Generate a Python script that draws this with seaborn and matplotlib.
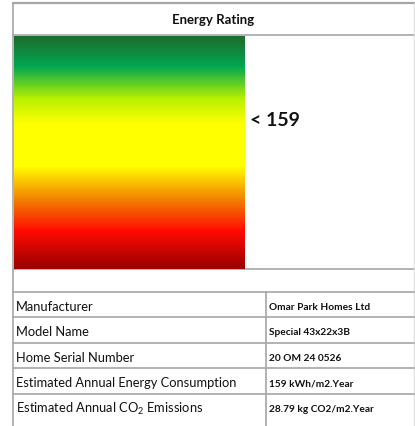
import numpy as np
import matplotlib
matplotlib.use('Agg')
import matplotlib.pyplot as plt
import seaborn as sns
from matplotlib.colors import LinearSegmentedColormap

# chart content
title = 'Energy Rating'
rating_label = '< 159'
row_labels = ['Manufacturer', 'Model Name', 'Home Serial Number',
              'Estimated Annual Energy Consumption',
              'Estimated Annual CO$_2$ Emissions']
row_values = ['Omar Park Homes Ltd', 'Special 43x22x3B', '20 OM 24 0526',
              '159 kWh/m2.Year', '28.79 kg CO2/m2.Year']

# gradient colour stops (top -> bottom)
stop_pos = [0.0, 0.13, 0.27, 0.38, 0.56, 0.71, 0.84, 1.0]
stop_colors = ['#1f6a2a', '#00a651', '#b6f000', '#ffff00', '#ffff00',
               '#f27c00', '#ff0a00', '#9a0000']

sns.set_theme(style='white')
plt.rcParams['font.family'] = ['Lato', 'DejaVu Sans']
plt.rcParams['mathtext.fontset'] = 'custom'
plt.rcParams['mathtext.rm'] = 'Lato'

W, H = 415, 427
fig = plt.figure(figsize=(W / 100, H / 100), dpi=100)
fig.patch.set_facecolor('white')

# frame axes in pixel coords
ax = fig.add_axes([0, 0, 1, 1])
ax.set_xlim(0, W)
ax.set_ylim(H, 0)
ax.axis('off')

line_c = '#a6a6a6'
left, right = 13, 414
ax.plot([left, right], [4, 4], color=line_c, lw=1.6)
ax.plot([left, right], [36, 36], color=line_c, lw=1.2)
ax.plot([left, right], [270, 270], color=line_c, lw=1.2)
ax.plot([left, left], [4, H + 5], color=line_c, lw=1.2)
ax.plot([right, right], [4, H + 5], color='#e0e0e0', lw=1.0)

ax.text((left + right) / 2, 20, title, ha='center', va='center',
        fontsize=9.5, fontweight='bold', color='#111111')
ax.text(250, 121, rating_label, ha='left', va='center',
        fontsize=14, fontweight='bold', color='#111111')

# table
row_top = 293
row_h = 25.4
div_x = 266
for i, (lab, val) in enumerate(zip(row_labels, row_values)):
    y0 = row_top + i * row_h
    ax.plot([left, right], [y0, y0], color=line_c, lw=1.2)
    ax.text(16, y0 + 18, lab, ha='left', va='baseline',
            fontsize=9.3, color='#111111')
    ax.text(269, y0 + 17, val, ha='left', va='baseline',
            fontsize=7.3, fontweight='bold', color='#111111')
ax.plot([div_x, div_x], [row_top, H + 5], color=line_c, lw=1.2)

# gradient block
gx0, gx1, gy0, gy1 = 13.5, 245, 36.5, 269.5
gax = fig.add_axes([gx0 / W, 1 - gy1 / H, (gx1 - gx0) / W, (gy1 - gy0) / H])
cmap = LinearSegmentedColormap.from_list('rating', list(zip(stop_pos, stop_colors)))
grad = np.linspace(0, 1, 256).reshape(-1, 1)
sns.heatmap(grad, cmap=cmap, cbar=False, ax=gax, xticklabels=False,
            yticklabels=False, vmin=0, vmax=1)
gax.set_xlabel('')
gax.set_ylabel('')

fig.savefig('out.png', dpi=100)
